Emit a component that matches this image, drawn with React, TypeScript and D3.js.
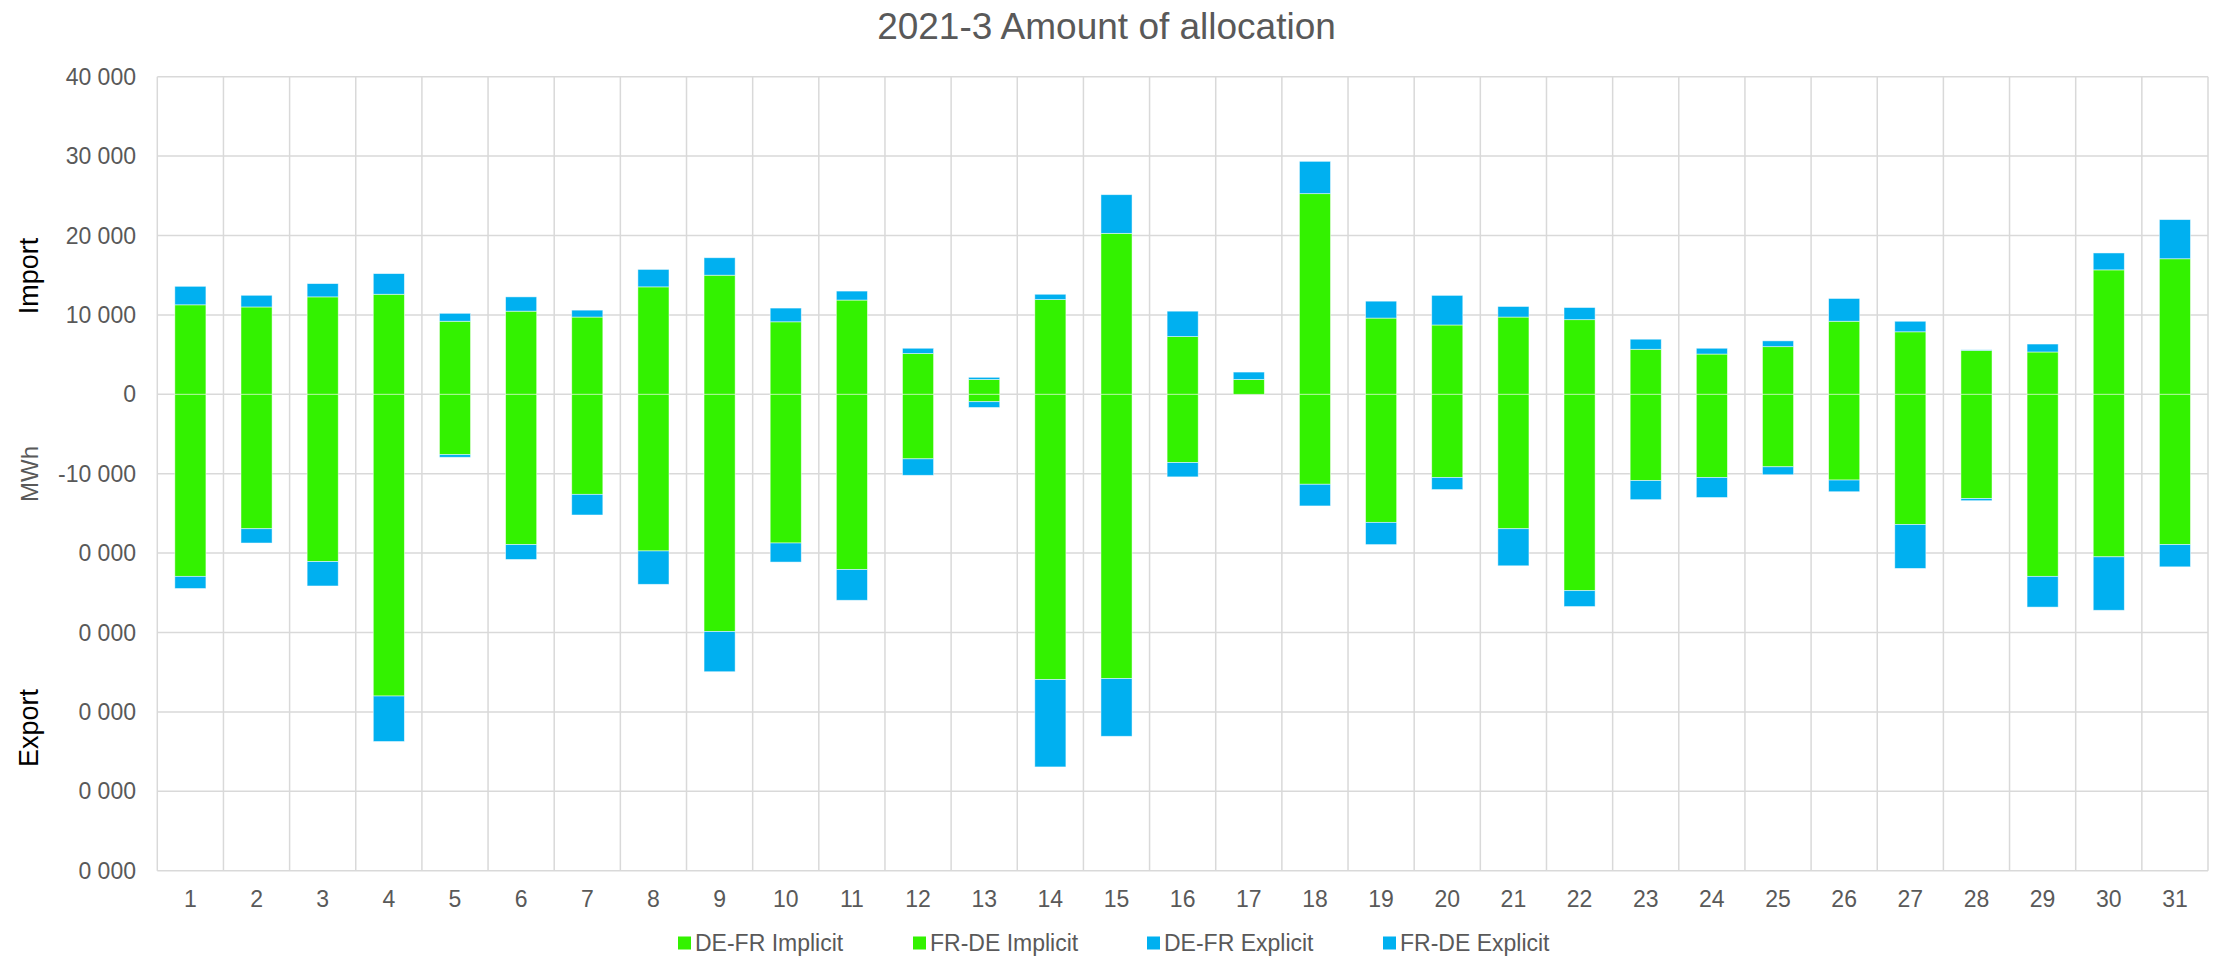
import React from "react";
import * as d3 from "d3";

const days = d3.range(1, 32).map(String);

// MWh, positive side (import)
const deFrImplicit = [
  11270, 11000, 12270, 12600, 9200, 10470, 9730, 13530, 15000, 9130, 11870,
  5130, 1870, 11930, 20270, 7270, 1870, 25270, 9600, 8730, 9730, 9400, 5670,
  5070, 6000, 9200, 7870, 5530, 5330, 15670, 17070,
];
const deFrExplicit = [
  2330, 1470, 1670, 2600, 1000, 1800, 870, 2200, 2200, 1730, 1130, 670, 270,
  670, 4870, 3200, 930, 4070, 2130, 3730, 1330, 1530, 1270, 730, 730, 2870,
  1330, 70, 1000, 2130, 4930,
];
// MWh, negative side (export)
const frDeImplicit = [
  -22930, -16930, -21070, -38000, -7600, -18930, -12600, -19730, -29870,
  -18730, -22070, -8130, -930, -35930, -35800, -8600, 0, -11330, -16130,
  -10470, -16930, -24730, -10870, -10470, -9130, -10800, -16400, -13130,
  -22930, -20470, -18930,
];
const frDeExplicit = [
  -1530, -1800, -3070, -5730, -330, -1870, -2600, -4200, -5070, -2400, -3870,
  -2070, -730, -11000, -7270, -1800, 0, -2730, -2800, -1530, -4670, -2000,
  -2400, -2530, -1000, -1470, -5530, -270, -3870, -6730, -2800,
];

const seriesNames = ["DE-FR Implicit", "FR-DE Implicit", "DE-FR Explicit", "FR-DE Explicit"];
const seriesColors = ["#33f200", "#33f200", "#00b0f0", "#00b0f0"];

const yTickValues = [40000, 30000, 20000, 10000, 0, -10000, -20000, -30000, -40000, -50000, -60000];
const yTickLabels = ["40 000", "30 000", "20 000", "10 000", "0", "-10 000", "0 000", "0 000", "0 000", "0 000", "0 000"];

const W = 2213;
const H = 960;
const plot = { left: 157.3, right: 2208, top: 76.7, bottom: 870.7 };
const font = "'Liberation Sans', Arial, sans-serif";
const grey = "#595959";
const grid = "#d9d9d9";

const App = () => {
  const rows = days.map((d, i) => ({
    day: d,
    [seriesNames[0]]: deFrImplicit[i],
    [seriesNames[1]]: frDeImplicit[i],
    [seriesNames[2]]: deFrExplicit[i],
    [seriesNames[3]]: frDeExplicit[i],
  }));

  const stacked = d3
    .stack<any>()
    .keys(seriesNames)
    .offset(d3.stackOffsetDiverging)(rows);

  const x = d3
    .scaleBand()
    .domain(days)
    .range([plot.left, plot.right])
    .paddingInner(0.53)
    .paddingOuter(0.265);
  const y = d3.scaleLinear().domain([-60000, 40000]).range([plot.bottom, plot.top]);

  const step = x.step();
  const edges = d3.range(0, days.length + 1).map((k) => plot.left + k * step);

  const legendX = [678, 913, 1147, 1383];

  return (
    <svg
      width={W}
      height={H}
      style={{ position: "absolute", left: 0, top: 0, background: "#fff" }}
      fontFamily={font}
    >
      <rect width={W} height={H} fill="#fff" />
      <text x={W / 2} y={39} textAnchor="middle" fontSize={37} fill={grey}>
        2021-3 Amount of allocation
      </text>

      {/* grid */}
      <g stroke={grid} strokeWidth={1.5}>
        {yTickValues.map((v) => (
          <line key={"h" + v} x1={plot.left} x2={plot.right} y1={y(v)} y2={y(v)} />
        ))}
        {edges.map((ex, k) => (
          <line key={"v" + k} x1={ex} x2={ex} y1={plot.top} y2={plot.bottom} />
        ))}
      </g>

      {/* bars */}
      {stacked.map((s, si) => (
        <g key={s.key} fill={seriesColors[si]} stroke="#ffffff" strokeOpacity={0.6} strokeWidth={0.8}>
          {s.map((d, i) =>
            d[1] - d[0] === 0 ? null : (
              <rect
                key={i}
                x={x(days[i])}
                width={x.bandwidth()}
                y={y(Math.max(d[0], d[1]))}
                height={Math.abs(y(d[0]) - y(d[1]))}
              />
            )
          )}
        </g>
      ))}

      {/* y tick labels */}
      {yTickValues.map((v, i) => (
        <text key={"yl" + v} x={136} y={y(v)} dy="0.35em" textAnchor="end" fontSize={23} fill={grey}>
          {yTickLabels[i]}
        </text>
      ))}

      {/* x tick labels */}
      {days.map((d) => (
        <text key={"xl" + d} x={x(d)! + x.bandwidth() / 2} y={907} textAnchor="middle" fontSize={23} fill={grey}>
          {d}
        </text>
      ))}

      {/* axis titles */}
      <text transform="translate(38,474) rotate(-90)" textAnchor="middle" fontSize={24} fill={grey}>
        MWh
      </text>
      <text transform="translate(38,276) rotate(-90)" textAnchor="middle" fontSize={27} fill="#000">
        Import
      </text>
      <text transform="translate(38,728) rotate(-90)" textAnchor="middle" fontSize={27} fill="#000">
        Export
      </text>

      {/* legend */}
      {seriesNames.map((n, i) => (
        <g key={n} transform={`translate(${legendX[i]},943)`}>
          <rect x={0} y={-6.5} width={13} height={13} fill={seriesColors[i]} />
          <text x={17} dy="0.35em" fontSize={23} fill={grey}>
            {n}
          </text>
        </g>
      ))}
    </svg>
  );
};

export default App;
